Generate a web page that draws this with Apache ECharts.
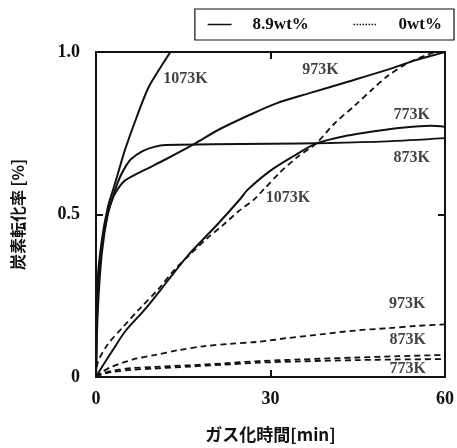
<!DOCTYPE html>
<html><head><meta charset="utf-8">
<script src="https://cdn.jsdelivr.net/npm/echarts@6/dist/echarts.min.js"></script>
<style>html,body{margin:0;padding:0;background:#fff}#c{width:457px;height:448px}</style>
</head><body><div id="c"></div>
<script>
// 8.9wt% (solid) series: [time(min), conversion]
const s1073 = [[0,0],[0.3,0.3],[1,0.42],[2,0.52],[3,0.58],[4,0.64],[5,0.7],[7,0.8],[9,0.89],[11,0.95],[12.8,1.0]];
const s973  = [[0,0],[0.3,0.2],[1,0.38],[2,0.5],[3,0.555],[4,0.585],[5,0.605],[7,0.625],[9,0.643],[12,0.67],[17,0.718],[21,0.76],[26,0.803],[31,0.842],[37,0.875],[43,0.907],[50,0.945],[55,0.975],[58,0.99],[60,1.0]];
const s873  = [[0,0],[0.3,0.25],[1,0.4],[2,0.5],[3,0.56],[4,0.61],[5,0.645],[6,0.67],[8,0.695],[10,0.708],[12,0.714],[20,0.716],[30,0.718],[40,0.72],[50,0.725],[60,0.735]];
const s773  = [[0,0],[1,0.03],[2.9,0.083],[5,0.14],[8.6,0.212],[12.5,0.3],[15.9,0.376],[20.9,0.47],[24.9,0.55],[26,0.575],[30,0.635],[34,0.68],[37.8,0.718],[43,0.742],[48.5,0.758],[53,0.768],[57.5,0.773],[60,0.77]];
// 0wt% (dashed) series
const d1073 = [[0,0],[0.3,0.045],[2,0.1],[4.6,0.153],[7.5,0.21],[10.8,0.272],[13.5,0.33],[16.4,0.381],[19,0.425],[22,0.47],[24.5,0.51],[27.1,0.545],[29,0.58],[31.6,0.629],[34.5,0.675],[37.8,0.718],[41,0.78],[44.6,0.837],[47.5,0.885],[50.2,0.927],[53.5,0.965],[56.9,0.991],[58.5,1.0],[60,1.0]];
const d973  = [[0,0],[1,0.015],[2.5,0.03],[4.6,0.044],[7,0.057],[10.2,0.068],[14,0.082],[18.7,0.095],[23,0.102],[27.7,0.108],[33,0.12],[39,0.132],[44.6,0.143],[50,0.15],[55,0.157],[60,0.162]];
const d873  = [[0,0],[1,0.01],[3,0.02],[6,0.027],[10,0.031],[16,0.036],[22,0.042],[28,0.049],[35,0.054],[45,0.06],[52,0.064],[60,0.068]];
const d773  = [[0,0],[1,0.008],[3,0.016],[6,0.022],[10,0.026],[16,0.032],[22,0.038],[28,0.044],[35,0.048],[45,0.052],[52,0.054],[60,0.055]];
// curve labels: [time, conversion, text]
const curveLabels = [[15.4,0.917,'1073K'],[38.6,0.946,'973K'],[54.3,0.807,'773K'],[54.3,0.673,'873K'],[33,0.55,'1073K'],[53.5,0.226,'973K'],[53.6,0.113,'873K'],[53.6,0.024,'773K']];
const xTicks = [0,30,60];
const yTickLabels = {0:'0',0.5:'0.5',1:'1.0'};
const legendNames = ['8.9wt%','0wt%'];
const xName = 'ガス化時間[min]';
const yName = '炭素転化率 [%]';

const serif = '"Liberation Serif","DejaVu Serif",serif';
const cjk = '"Noto Sans CJK JP",sans-serif';
const chart = echarts.init(document.getElementById('c'));
function line(name, data, dashed){
  return {type:'line', name:name, data:data, symbol:'none', smooth:0.3, silent:true,
    itemStyle:{color:'#111'},
    lineStyle:{color:'#111', width:dashed?1.8:2, type:dashed?[6,4]:'solid'}};
}
const series = [
  line(legendNames[0], s1073, false), line(legendNames[0], s973, false),
  line(legendNames[0], s873, false), line(legendNames[0], s773, false),
  line(legendNames[1], d1073, true), line(legendNames[1], d973, true),
  line(legendNames[1], d873, true), line(legendNames[1], d773, true),
  {type:'scatter', data:curveLabels.map(d=>({value:[d[0],d[1]], label:{formatter:d[2]}})),
   symbolSize:0, silent:true,
   label:{show:true, position:'inside', color:'#111', fontFamily:serif, fontWeight:'bold', fontSize:16}}
];
const tick = {show:true,inside:true,length:7,lineStyle:{color:'#111',width:2}};
const axLine = {show:true,onZero:false,lineStyle:{color:'#111',width:2}};
chart.setOption({
  animation:false,
  grid:{left:96,right:6,top:52,bottom:60},
  legend:{data:[{name:legendNames[0],itemStyle:{opacity:0},lineStyle:{width:1.5}},
                {name:legendNames[1],itemStyle:{opacity:0},lineStyle:{type:'dotted',width:1.5}}],
    right:3, top:9, width:290, orient:'horizontal', borderColor:'#111', borderWidth:1.2, padding:[7,12], itemWidth:24, itemHeight:10,
    itemGap:44, textStyle:{fontFamily:serif, fontWeight:'bold', fontSize:17, color:'#111', padding:[0,0,0,16]}},
  xAxis:[
    {type:'value', min:0, max:60, interval:30, position:'bottom', axisLine:axLine, splitLine:{show:false},
      axisTick:tick,
      axisLabel:{margin:13, color:'#111', fontFamily:serif, fontWeight:'bold', fontSize:18},
      name:xName, nameLocation:'middle', nameGap:49,
      nameTextStyle:{fontFamily:cjk, fontWeight:'bold', fontSize:17, color:'#111'}},
    {type:'value', min:0, max:60, interval:30, position:'top', axisLine:axLine, splitLine:{show:false},
      axisTick:tick, axisLabel:{show:false}}
  ],
  yAxis:[
    {type:'value', min:0, max:1, interval:0.5, position:'left', axisLine:axLine, splitLine:{show:false},
      axisTick:tick,
      axisLabel:{margin:16, color:'#111', fontFamily:serif, fontWeight:'bold', fontSize:18,
        formatter:v=>yTickLabels[v] !== undefined ? yTickLabels[v] : ''},
      name:yName, nameLocation:'middle', nameRotate:90, nameGap:70,
      nameTextStyle:{fontFamily:cjk, fontWeight:'bold', fontSize:16, color:'#111'}},
    {type:'value', min:0, max:1, interval:0.5, position:'right', axisLine:axLine, splitLine:{show:false},
      axisTick:tick, axisLabel:{show:false}}
  ],
  series:series
});
</script></body></html>
